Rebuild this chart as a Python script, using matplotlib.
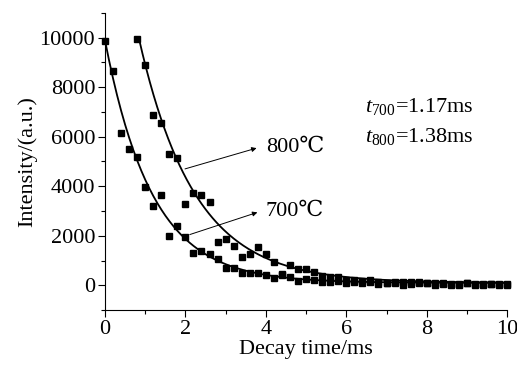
import numpy as np
import matplotlib.pyplot as plt

plt.rcParams['font.family'] = ['Liberation Serif', 'DejaVu Serif']
plt.rcParams['mathtext.fontset'] = 'custom'
plt.rcParams['mathtext.rm'] = 'Liberation Serif'
plt.rcParams['mathtext.it'] = 'Liberation Serif:italic'

# 700 C decay, sampled every 0.2 ms from 0
t_700 = np.round(np.arange(0, 10.01, 0.2), 1)
i_700 = [9850, 8640, 6130, 5500, 5170, 3970, 3200, 3650, 2000, 2390,
         1960, 1320, 1390, 1255, 1050, 700, 700, 500, 500, 500,
         430, 300, 430, 340, 160, 270, 200, 150, 120, 180,
         100, 150, 100, 130, 40, 80, 130, 30, 120, 140,
         100, 30, 70, 10, 20, 110, 70, 30, 40, 30, 30]

# 800 C decay, sampled every 0.2 ms from 0.8
t_800 = np.round(np.arange(0.8, 10.01, 0.2), 1)
i_800 = [9960, 8900, 6880, 6560, 5320, 5130, 3290, 3710, 3640, 3375,
         1730, 1890, 1590, 1150, 1255, 1550, 1280, 960, 450, 830,
         675, 650, 520, 380, 330, 350, 230, 200, 180, 200,
         120, 110, 100, 150, 70, 100, 90, 80, 110, 40,
         60, 80, 30, 60, 50, 40, 40]

# fit parameters (offset, amplitude, start, lifetime)
fit_700 = (100, 9800, 0.0, 1.17)
fit_800 = (100, 9900, 0.84, 1.38)

fig = plt.figure(figsize=(5.17, 3.67), dpi=100)
ax = fig.add_axes([0.203, 0.155, 0.778, 0.81])

for (y0, a, x0, tau) in (fit_700, fit_800):
    xx = np.linspace(x0, 10, 300)
    ax.plot(xx, y0 + a * np.exp(-(xx - x0) / tau), color='black', lw=1.3)

ax.plot(t_700, i_700, 's', color='black', ms=5, clip_on=False)
ax.plot(t_800, i_800, 's', color='black', ms=5, clip_on=False)

arrow = dict(arrowstyle='-|>', color='black', lw=0.7, mutation_scale=7, shrinkA=0, shrinkB=0)
ax.annotate('', xy=(3.77, 5540), xytext=(1.99, 4700), arrowprops=arrow)
ax.annotate('', xy=(3.79, 2945), xytext=(2.11, 2050), arrowprops=arrow)
ax.text(4.0, 5560, '800℃', fontsize=16, va='center', ha='left')
ax.text(4.0, 3000, '700℃', fontsize=16, va='center', ha='left')
ax.text(6.47, 7210, r'$t_{700}$=1.17ms', fontsize=16, va='center', ha='left')
ax.text(6.47, 5995, r'$t_{800}$=1.38ms', fontsize=16, va='center', ha='left')

ax.set_xlim(0, 10)
ax.set_ylim(-1000, 11000)
ax.set_xticks(np.arange(0, 11, 2))
ax.set_xticks(np.arange(0, 11, 1), minor=True)
ax.set_yticks(np.arange(0, 10001, 2000))
ax.set_yticks(np.arange(-1000, 11001, 1000), minor=True)
ax.spines['top'].set_visible(False)
ax.spines['right'].set_visible(False)
ax.tick_params(direction='out', length=5, width=0.8, labelsize=16, pad=2)
ax.tick_params(which='minor', direction='out', length=3, width=0.8)
ax.set_xlabel('Decay time/ms', fontsize=16, labelpad=1)
ax.set_ylabel('Intensity/(a.u.)', fontsize=16, labelpad=2)

fig.savefig('out.png', dpi=100)
